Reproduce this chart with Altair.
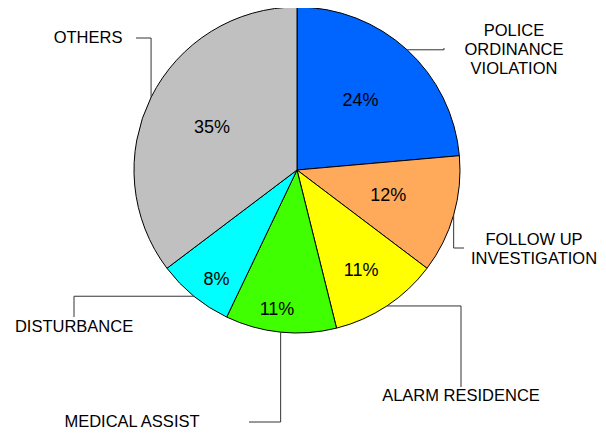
import math
import altair as alt
import pandas as pd

# ---- data ----
categories = ["POLICE ORDINANCE VIOLATION", "FOLLOW UP INVESTIGATION", "ALARM RESIDENCE",
              "MEDICAL ASSIST", "DISTURBANCE", "OTHERS"]
label_lines = [["POLICE", "ORDINANCE", "VIOLATION"], ["FOLLOW UP", "INVESTIGATION"],
               ["ALARM RESIDENCE"], ["MEDICAL ASSIST"], ["DISTURBANCE"], ["OTHERS"]]
values = [23.6, 11.7, 10.8, 11.0, 7.6, 35.3]
colors = ["#0064FF", "#FFAA5A", "#FFFF00", "#40FF00", "#00FFFF", "#C0C0C0"]

# ---- layout (picture pixel space) ----
W, H = 590, 421
OFF = 8
CX, CY, R = 297, 170, 163
FONT = "Liberation Sans"
pct_radius = [94, 95, 120, 141, 136, 95]
pct_angle_shift = [0, 0, 1.2, 2.4, -3.0, 0]  # degrees, best-fit placement
# per slice: end point of leader, elbow mode, label centre (first line)
leader_end = [(444, 48), (464, 248), (461, 387), (249, 422), (74, 317), (136, 38)]
elbow_mode = ["h", "v", "h", "v", "h", "v"]  # 'h': horizontal first, 'v': vertical first
label_pos = [(514, 31), (534, 240), (461, 396), (132, 422), (74, 327), (88, 38)]
LINE_H = 19

total = sum(values)

line_rows = []
pct_rows = []
cum = 0.0
for i, v in enumerate(values):
    mid = (cum + v / 2) / total * 2 * math.pi
    cum += v
    # leader anchor on the pie edge at mid-angle
    ax = CX + R * math.sin(mid)
    ay = CY - R * math.cos(mid)
    ex, ey = leader_end[i]
    el = (ex, ay) if elbow_mode[i] == "h" else (ax, ey)
    for k, (px, py) in enumerate([(ax, ay), el, (ex, ey)]):
        line_rows.append({"cat": categories[i], "k": k, "x": px, "y": py})
    a = mid + math.radians(pct_angle_shift[i])
    pct_rows.append({
        "pct": f"{round(v / total * 100)}%",
        "x": CX + pct_radius[i] * math.sin(a),
        "y": CY - pct_radius[i] * math.cos(a),
    })
line_df = pd.DataFrame(line_rows)
pct_df = pd.DataFrame(pct_rows)

pie_df = pd.DataFrame({
    "idx": list(range(len(categories))),
    "category": categories,
    "value": values,
})

text_rows = []
for i, lines in enumerate(label_lines):
    lx, ly = label_pos[i]
    for j, t in enumerate(lines):
        text_rows.append({"t": t, "x": lx, "y": ly + j * LINE_H})
text_df = pd.DataFrame(text_rows)

xs = alt.Scale(domain=[OFF, OFF + W], range=[0, W])
ys = alt.Scale(domain=[OFF, OFF + H], range=[0, H])

color_scale = alt.Scale(domain=categories, range=colors)

arcs = alt.Chart(pie_df).mark_arc(
    outerRadius=R, x=CX - OFF, y=CY - OFF, stroke="black", strokeWidth=1
).encode(
    theta=alt.Theta("value:Q", stack=True),
    order=alt.Order("idx:Q"),
    color=alt.Color("category:N", scale=color_scale, legend=None),
)

pcts = alt.Chart(pct_df).mark_text(
    font=FONT, fontSize=18, color="black", baseline="middle", align="center"
).encode(
    x=alt.X("x:Q", scale=xs, axis=None),
    y=alt.Y("y:Q", scale=ys, axis=None),
    text="pct:N",
)

leaders = alt.Chart(line_df).mark_line(color="#333333", strokeWidth=1).encode(
    x=alt.X("x:Q", scale=xs, axis=None),
    y=alt.Y("y:Q", scale=ys, axis=None),
    detail="cat:N",
    order="k:Q",
)

labels = alt.Chart(text_df).mark_text(
    font=FONT, fontSize=16.5, color="black", baseline="middle", align="center"
).encode(
    x=alt.X("x:Q", scale=xs, axis=None),
    y=alt.Y("y:Q", scale=ys, axis=None),
    text="t:N",
)

chart = alt.layer(arcs, pcts, leaders, labels).properties(
    width=W, height=H, padding=0, autosize=alt.AutoSizeParams(type="none")
).configure_view(stroke=None)

chart.save("out.html", embed_options={"renderer": "svg", "actions": False})
